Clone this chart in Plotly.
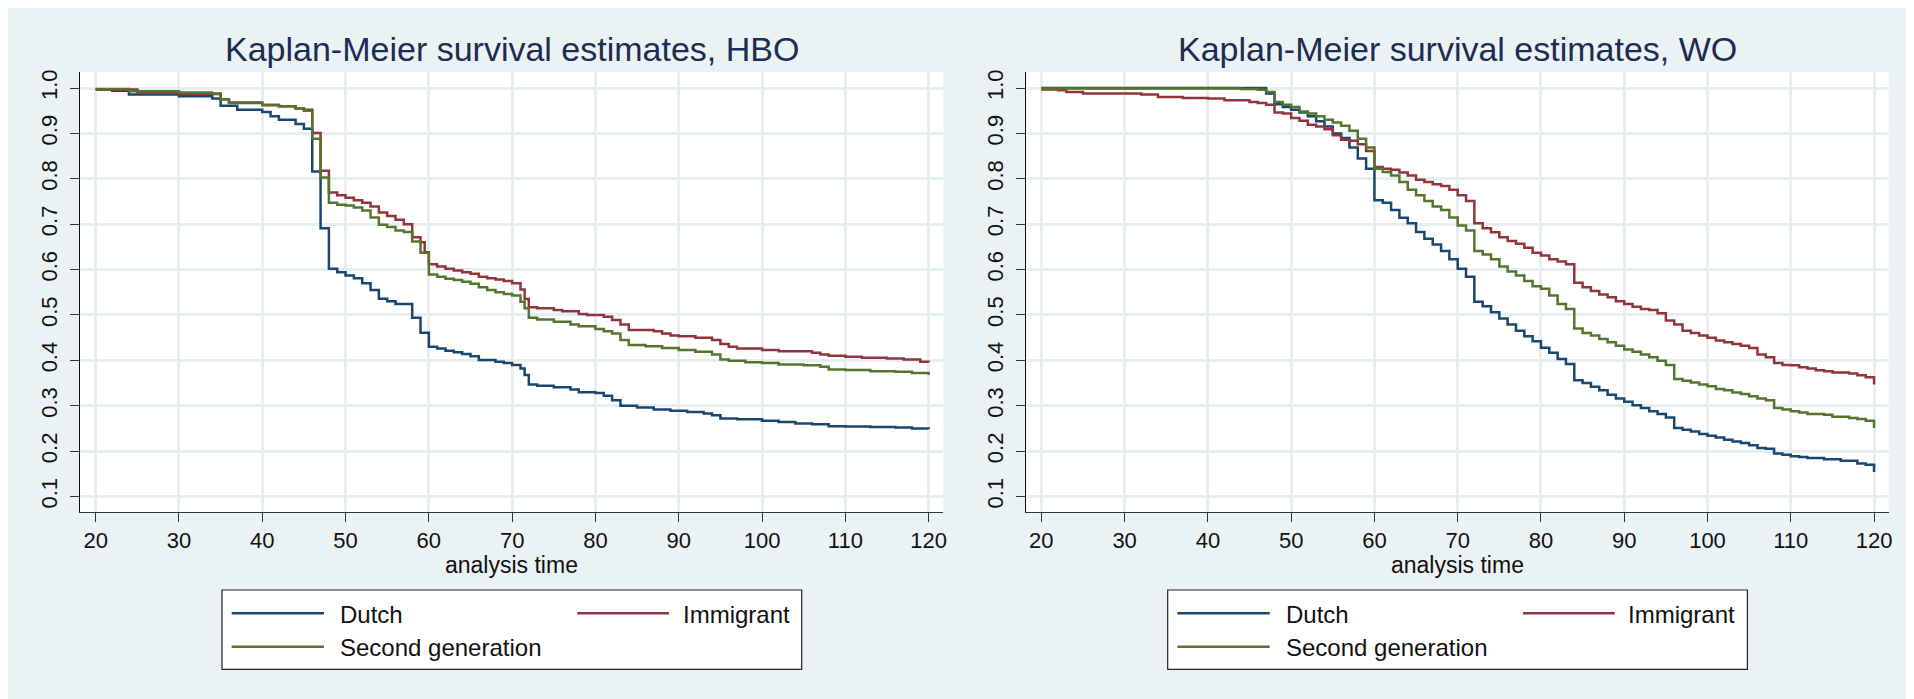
import plotly.graph_objects as go

# The page body adds an 8px margin, so the figure is drawn 8px smaller and
# all reference pixel positions are shifted by that offset.
PAGE_W, PAGE_H = 1914, 699
OFF = 8
W, H = PAGE_W - OFF, PAGE_H - OFF

# ---------------- data ----------------
series_names = ["Dutch", "Immigrant", "Second generation"]
series_colors = ["#1A476F", "#90353B", "#55752F"]

x_ticks = [20, 30, 40, 50, 60, 70, 80, 90, 100, 110, 120]
y_ticks = [0.1, 0.2, 0.3, 0.4, 0.5, 0.6, 0.7, 0.8, 0.9, 1.0]
y_tick_labels = ["0.1", "0.2", "0.3", "0.4", "0.5", "0.6", "0.7", "0.8", "0.9", "1.0"]

panel_titles = ["Kaplan-Meier survival estimates, HBO",
                "Kaplan-Meier survival estimates, WO"]
x_title = "analysis time"

# HBO panel
hbo_dutch_t = [20, 22, 24, 30, 34, 35, 37, 40, 41, 42, 44, 45, 46, 47, 48, 49, 50, 51, 52, 53,
               54, 55, 56, 58, 59, 60, 61, 62, 63, 64, 65, 66, 68, 69, 70, 71, 71.5, 72, 73, 75,
               77, 78, 80, 81, 82, 83, 85, 87, 89, 91, 93, 94, 95, 97, 100, 102, 104, 106, 108, 110,
               113, 116, 118, 120]
hbo_dutch_s = [0.997, 0.994, 0.986, 0.982, 0.977, 0.961, 0.952, 0.947, 0.938, 0.930,
               0.921, 0.910, 0.816, 0.691, 0.602, 0.594, 0.587, 0.581, 0.570, 0.555,
               0.536, 0.530, 0.524, 0.494, 0.461, 0.430, 0.426, 0.421, 0.418, 0.414,
               0.409, 0.401, 0.397, 0.394, 0.390, 0.382, 0.368, 0.347, 0.344, 0.341,
               0.336, 0.330, 0.328, 0.322, 0.312, 0.300, 0.296, 0.292, 0.289, 0.286,
               0.283, 0.279, 0.272, 0.270, 0.267, 0.264, 0.261, 0.259, 0.255, 0.254,
               0.253, 0.252, 0.250, 0.249]

hbo_immig_t = [20, 25, 30, 35, 36, 40, 42, 44, 45, 46, 47, 48, 49, 50, 51, 52, 53, 54, 55, 56,
               57, 58, 59, 59.5, 60, 61, 62, 63, 64, 65, 66, 67, 68, 69, 70, 71, 71.5, 72, 73, 75,
               76, 78, 79, 81, 82, 83, 84, 87, 88, 89, 90, 92, 94, 95, 96, 97, 100, 102, 106, 107,
               108, 110, 112, 115, 117, 119, 120]
hbo_immig_s = [0.997, 0.990, 0.987, 0.975, 0.968, 0.962, 0.960, 0.955, 0.952, 0.901,
               0.818, 0.770, 0.764, 0.758, 0.753, 0.747, 0.739, 0.726, 0.718, 0.710,
               0.700, 0.671, 0.660, 0.638, 0.612, 0.607, 0.602, 0.598, 0.594, 0.591,
               0.584, 0.581, 0.578, 0.575, 0.570, 0.556, 0.535, 0.517, 0.515, 0.511,
               0.508, 0.502, 0.500, 0.496, 0.489, 0.479, 0.467, 0.464, 0.459, 0.455,
               0.453, 0.450, 0.445, 0.436, 0.430, 0.426, 0.423, 0.420, 0.417, 0.413,
               0.410, 0.408, 0.406, 0.404, 0.402, 0.397, 0.396]

hbo_second_t = [20, 24, 30, 34, 35, 36, 40, 42, 44, 45, 46, 47, 48, 49, 50, 51, 52, 53, 54, 55,
                56, 57, 58, 59, 60, 61, 62, 63, 64, 65, 66, 67, 68, 69, 70, 71, 71.5, 72, 73, 75,
                77, 78, 80, 81, 82, 83, 84, 86, 88, 90, 92, 94, 95, 96, 98, 100, 102, 105, 107, 108,
                110, 113, 116, 118, 120]
hbo_second_s = [0.998, 0.993, 0.990, 0.988, 0.975, 0.967, 0.963, 0.960, 0.955, 0.950,
                0.888, 0.803, 0.747, 0.743, 0.741, 0.737, 0.730, 0.715, 0.699, 0.694,
                0.686, 0.683, 0.662, 0.637, 0.589, 0.584, 0.580, 0.577, 0.573, 0.569,
                0.561, 0.555, 0.550, 0.546, 0.543, 0.529, 0.515, 0.494, 0.490, 0.485,
                0.479, 0.475, 0.469, 0.464, 0.459, 0.445, 0.434, 0.431, 0.427, 0.423,
                0.419, 0.413, 0.402, 0.399, 0.396, 0.394, 0.391, 0.389, 0.386, 0.380,
                0.379, 0.376, 0.375, 0.372, 0.368]

# WO panel
wo_dutch_t = [20, 47, 48, 49, 50, 51, 52, 53, 54, 55, 56, 57, 58, 59, 60, 61, 62, 63, 64, 65,
              66, 67, 68, 69, 70, 71, 72, 73, 74, 75, 76, 77, 78, 79, 80, 81, 82, 83, 84, 85,
              86, 87, 88, 89, 90, 91, 92, 93, 94, 95, 96, 97, 98, 99, 100, 101, 102, 103, 104, 105,
              106, 107, 108, 109, 110, 111, 112, 114, 116, 118, 119, 120]
wo_dutch_s = [1.000, 0.988, 0.964, 0.958, 0.952, 0.946, 0.938, 0.927, 0.915, 0.900,
              0.890, 0.869, 0.845, 0.822, 0.753, 0.747, 0.731, 0.714, 0.702, 0.683,
              0.668, 0.655, 0.641, 0.623, 0.602, 0.584, 0.529, 0.519, 0.506, 0.492,
              0.479, 0.465, 0.453, 0.442, 0.428, 0.417, 0.403, 0.392, 0.356, 0.350,
              0.342, 0.334, 0.324, 0.316, 0.309, 0.301, 0.295, 0.288, 0.282, 0.274,
              0.251, 0.247, 0.243, 0.238, 0.234, 0.230, 0.225, 0.221, 0.218, 0.213,
              0.207, 0.205, 0.195, 0.192, 0.189, 0.187, 0.185, 0.182, 0.179, 0.173,
              0.170, 0.154]

wo_immig_t = [20, 22, 23, 25, 32, 34, 37, 40, 42, 45, 46, 47, 48, 49, 50, 51, 52, 53, 54, 55,
              56, 57, 58, 59, 60, 61, 62, 63, 64, 65, 66, 67, 68, 69, 70, 71, 72, 73, 74, 75,
              76, 77, 78, 79, 80, 81, 82, 83, 84, 85, 86, 87, 88, 89, 90, 91, 92, 93, 94, 95,
              96, 97, 98, 99, 100, 101, 102, 103, 104, 105, 106, 107, 108, 109, 110, 111, 112, 113, 114, 115,
              117, 118, 119, 120]
wo_immig_s = [0.997, 0.995, 0.991, 0.988, 0.986, 0.980, 0.978, 0.977, 0.973, 0.969,
              0.967, 0.963, 0.946, 0.944, 0.934, 0.928, 0.919, 0.915, 0.909, 0.896,
              0.886, 0.884, 0.876, 0.861, 0.826, 0.822, 0.820, 0.814, 0.807, 0.798,
              0.793, 0.788, 0.784, 0.776, 0.764, 0.751, 0.702, 0.691, 0.682, 0.671,
              0.663, 0.657, 0.648, 0.637, 0.631, 0.623, 0.618, 0.612, 0.571, 0.561,
              0.553, 0.545, 0.539, 0.530, 0.524, 0.518, 0.513, 0.511, 0.504, 0.488,
              0.479, 0.465, 0.460, 0.455, 0.450, 0.444, 0.440, 0.436, 0.432, 0.427,
              0.413, 0.407, 0.394, 0.390, 0.389, 0.385, 0.382, 0.378, 0.376, 0.373,
              0.371, 0.367, 0.363, 0.347]

wo_second_t = [20, 44, 46, 47, 48, 49, 50, 51, 52, 53, 54, 55, 56, 57, 58, 59, 60, 61, 62, 63,
               64, 65, 66, 67, 68, 69, 70, 71, 72, 73, 74, 75, 76, 77, 78, 79, 80, 81, 82, 83,
               84, 85, 86, 87, 88, 89, 90, 91, 92, 93, 94, 95, 96, 97, 98, 99, 100, 101, 102, 103,
               104, 105, 106, 107, 108, 109, 110, 111, 112, 114, 115, 117, 118, 119, 120]
wo_second_s = [0.999, 0.998, 0.996, 0.991, 0.969, 0.963, 0.958, 0.948, 0.944, 0.938,
               0.930, 0.924, 0.917, 0.906, 0.888, 0.869, 0.822, 0.815, 0.807, 0.793,
               0.776, 0.764, 0.751, 0.739, 0.731, 0.715, 0.697, 0.686, 0.641, 0.633,
               0.623, 0.607, 0.596, 0.587, 0.575, 0.563, 0.558, 0.543, 0.524, 0.513,
               0.470, 0.460, 0.455, 0.447, 0.440, 0.432, 0.424, 0.419, 0.413, 0.407,
               0.399, 0.390, 0.359, 0.355, 0.351, 0.347, 0.343, 0.337, 0.334, 0.329,
               0.326, 0.321, 0.316, 0.312, 0.295, 0.292, 0.288, 0.285, 0.282, 0.280,
               0.276, 0.273, 0.271, 0.267, 0.251]

panels = [
    [(hbo_dutch_t, hbo_dutch_s), (hbo_immig_t, hbo_immig_s), (hbo_second_t, hbo_second_s)],
    [(wo_dutch_t, wo_dutch_s), (wo_immig_t, wo_immig_s), (wo_second_t, wo_second_s)],
]

# ---------------- styling ----------------
FONT = "Liberation Sans, Arial, Helvetica, sans-serif"
BG = "#EAF2F3"
GRID = "#E6EEF0"
TITLE_COLOR = "#1C2C52"

# pixel geometry in page (reference) coordinates
plot_left = [80.0, 1025.7]
plot_right = [943.3, 1888.7]
plot_top, plot_bottom = 72.0, 512.0

def px(x):
    return (x - OFF) / W

def py(y):
    return 1 - (y - OFF) / H

fig = go.Figure()

for p, data in enumerate(panels):
    xa = "x" if p == 0 else "x2"
    ya = "y" if p == 0 else "y2"
    for (t, s), name, color in zip(data, series_names, series_colors):
        fig.add_trace(go.Scatter(
            x=t, y=s, mode="lines", name=name,
            line=dict(color=color, width=2.5, shape="hv"),
            xaxis=xa, yaxis=ya, showlegend=False,
            hoverinfo="skip"))

axis_common_x = dict(
    range=[18.12, 121.76], tickvals=x_ticks, ticks="outside", ticklen=9,
    tickcolor="#333333", tickwidth=1, showline=True, linecolor="#333333", linewidth=1,
    showgrid=True, gridcolor=GRID, gridwidth=2.5, zeroline=False,
    tickfont=dict(family=FONT, size=22, color="#111111"), automargin=False,
    fixedrange=True)
axis_common_y = dict(
    range=[0.0659, 1.0353], tickvals=y_ticks, ticktext=y_tick_labels, ticks="outside",
    ticklen=9, tickcolor="#333333", tickwidth=1, showline=True, linecolor="#111111",
    linewidth=1.2, showgrid=True, gridcolor=GRID, gridwidth=2.5, zeroline=False,
    tickangle=-90, ticklabelstandoff=4,
    tickfont=dict(family=FONT, size=22, color="#111111"), automargin=False,
    fixedrange=True)

fig.update_layout(
    width=W, height=H,
    margin=dict(l=0, r=0, t=0, b=0),
    paper_bgcolor=BG, plot_bgcolor="white",
    showlegend=False,
    xaxis=dict(domain=[px(plot_left[0]), px(plot_right[0])], anchor="y", **axis_common_x),
    yaxis=dict(domain=[py(plot_bottom), py(plot_top)], anchor="x", **axis_common_y),
    xaxis2=dict(domain=[px(plot_left[1]), px(plot_right[1])], anchor="y2", **axis_common_x),
    yaxis2=dict(domain=[py(plot_bottom), py(plot_top)], anchor="x2", **axis_common_y),
)

shapes = []
annotations = []

# white page strip at the right edge
shapes.append(dict(type="rect", xref="paper", yref="paper", x0=px(1908), x1=1, y0=0, y1=1,
                   fillcolor="white", line=dict(width=0), layer="below"))

for p in range(2):
    cx = (plot_left[p] + plot_right[p]) / 2
    # title
    annotations.append(dict(
        text=panel_titles[p], xref="paper", yref="paper", x=px(cx), y=py(49),
        xanchor="center", yanchor="middle", showarrow=False,
        font=dict(family=FONT, size=34, color=TITLE_COLOR)))
    # x axis title
    annotations.append(dict(
        text=x_title, xref="paper", yref="paper", x=px(cx), y=py(565),
        xanchor="center", yanchor="middle", showarrow=False,
        font=dict(family=FONT, size=23, color="#111111")))
    # legend box
    off = plot_left[p] - plot_left[0]
    lx0, lx1, ly0, ly1 = 222 + off, 801.7 + off, 590, 669.3
    shapes.append(dict(type="rect", xref="paper", yref="paper",
                       x0=px(lx0), x1=px(lx1), y0=py(ly1), y1=py(ly0),
                       fillcolor="white", line=dict(color="#222222", width=1.2)))
    # legend entries: (line x0, line x1, row y, text x, anchor)
    entries = [
        (231.7 + off, 324 + off, 613.3, 338 + off, "left"),
        (577.3 + off, 669 + off, 613.3, 791.7 + off, "right"),
        (231.7 + off, 324 + off, 646.7, 338 + off, "left"),
    ]
    for (x0, x1, yy, tx, anc), name, color in zip(entries, series_names, series_colors):
        shapes.append(dict(type="line", xref="paper", yref="paper",
                           x0=px(x0), x1=px(x1), y0=py(yy), y1=py(yy),
                           line=dict(color=color, width=2.6)))
        annotations.append(dict(
            text=name, xref="paper", yref="paper", x=px(tx), y=py(yy + 1),
            xanchor=anc, yanchor="middle", showarrow=False,
            font=dict(family=FONT, size=24, color="#111111")))

fig.update_layout(shapes=shapes, annotations=annotations)

fig.write_html("out.html")
